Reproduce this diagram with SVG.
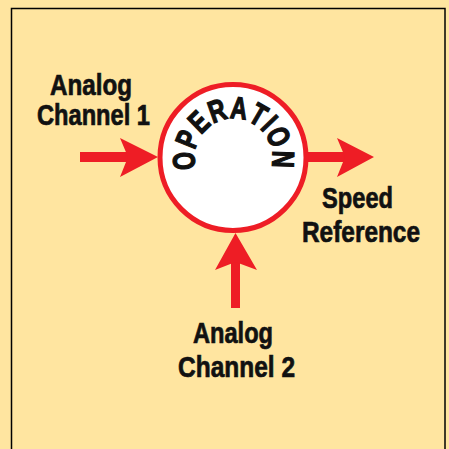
<svg xmlns="http://www.w3.org/2000/svg" width="449" height="449" viewBox="0 0 449 449">
<defs>
<style>
.lbl{font-family:"Liberation Sans",Arial,sans-serif;font-weight:bold;font-size:29px;fill:#111;stroke:#111;stroke-width:0.7px;}
.op{font-family:"Liberation Sans",Arial,sans-serif;font-weight:bold;font-size:31px;fill:#111;stroke:#111;stroke-width:1.3px;text-anchor:middle;}
.arrow{fill:#EE1D25;}
</style>
</defs>
<rect x="0" y="0" width="449" height="449" fill="#FFE5A0"/>
<rect id="frame" x="11.5" y="8.5" width="433.5" height="470" fill="none" stroke="#000" stroke-width="1.5"/>
<g id="connectors">
<g id="arrow-ch1" class="arrow">
<rect x="80" y="152" width="50" height="10"/>
<polygon points="158,157 120,138 128,157 120,177"/>
</g>
<g id="arrow-speed" class="arrow">
<rect x="305" y="152" width="44" height="10"/>
<polygon points="374,157 337,138 345,157 337,177"/>
</g>
<g id="arrow-ch2" class="arrow">
<rect x="231" y="258" width="9" height="50"/>
<polygon points="235.5,233 215,270 235.5,262 257,270"/>
</g>
</g>
<g id="node-operation">
<circle cx="233" cy="157.5" r="73" fill="#fff" stroke="#EE1D25" stroke-width="5"/>
<text class="op" transform="translate(194.59,160.22) rotate(-94) scale(0.75,1)">O</text>
<text class="op" transform="translate(197.31,142.97) rotate(-68.13) scale(0.75,1)">P</text>
<text class="op" transform="translate(206.29,129.56) rotate(-44.25) scale(0.75,1)">E</text>
<text class="op" transform="translate(220.56,120.71) rotate(-19.38) scale(0.75,1)">R</text>
<text class="op" transform="translate(237.90,118.75) rotate(6.47) scale(0.75,1)">A</text>
<text class="op" transform="translate(253.20,123.84) rotate(30.34) scale(0.75,1)">T</text>
<text class="op" transform="translate(261.69,130.54) rotate(46.27) scale(0.75,1)">I</text>
<text class="op" transform="translate(268.90,141.13) rotate(65.18) scale(0.75,1)">O</text>
<text class="op" transform="translate(272.48,158.88) rotate(92.03) scale(0.75,1)">N</text>
</g>
<g id="label-ch1">
<text class="lbl" x="50" y="95" textLength="82" lengthAdjust="spacingAndGlyphs">Analog</text>
<text class="lbl" x="37" y="125" textLength="113" lengthAdjust="spacingAndGlyphs">Channel 1</text>
</g>
<g id="label-speed">
<text class="lbl" x="322" y="208" textLength="71" lengthAdjust="spacingAndGlyphs">Speed</text>
<text class="lbl" x="302" y="242" textLength="118" lengthAdjust="spacingAndGlyphs">Reference</text>
</g>
<g id="label-ch2">
<text class="lbl" x="193" y="343" textLength="80" lengthAdjust="spacingAndGlyphs">Analog</text>
<text class="lbl" x="178" y="377" textLength="117" lengthAdjust="spacingAndGlyphs">Channel 2</text>
</g>
</svg>
